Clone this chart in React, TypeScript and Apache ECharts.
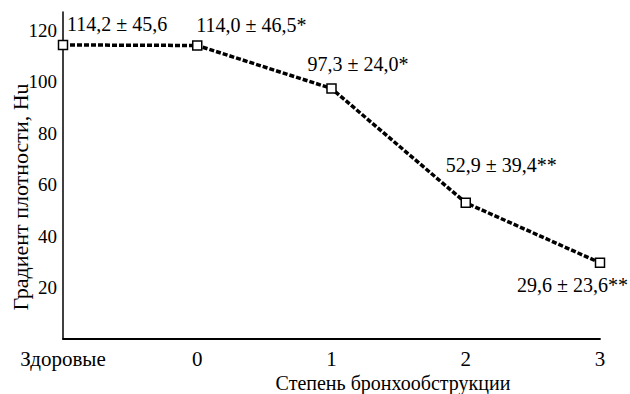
import React, { useEffect, useRef } from "react";
import * as echarts from "echarts";

const categories = ["Здоровые", "0", "1", "2", "3"];
const values = [114.2, 114.0, 97.3, 52.9, 29.6];
const pointLabels = [
  "114,2 ± 45,6",
  "114,0 ± 46,5*",
  "97,3 ± 24,0*",
  "52,9 ± 39,4**",
  "29,6 ± 23,6**",
];
const yTicks = [20, 40, 60, 80, 100, 120];
const yAxisTitle = "Градиент плотности, Hu";
const xAxisTitle = "Степень бронхообструкции";

const FONT = "Liberation Serif";

const labelLayouts = [
  { align: "left", offset: [4, -21] },
  { align: "left", offset: [-1, -20] },
  { align: "left", offset: [-24, -24] },
  { align: "left", offset: [-20, -38] },
  { align: "right", offset: [28, 22] },
];

export default function App() {
  const ref = useRef<HTMLDivElement>(null);
  useEffect(() => {
    document.body.style.margin = "0";
    if (!ref.current) return;
    const chart = echarts.init(ref.current, null, { renderer: "svg" });
    chart.setOption({
      animation: false,
      backgroundColor: "#ffffff",
      textStyle: { fontFamily: FONT },
      grid: { left: 63, right: 30, top: 12, bottom: 55, containLabel: false },
      xAxis: {
        type: "category",
        data: categories,
        boundaryGap: false,
        axisLine: { lineStyle: { color: "#000", width: 1.8 } },
        axisTick: { show: false },
        axisLabel: {
          color: "#000",
          fontFamily: FONT,
          fontSize: 21,
          margin: 9,
        },
        splitLine: { show: false },
      },
      yAxis: {
        type: "value",
        min: 0,
        max: 127,
        interval: 20,
        axisLine: { show: true, lineStyle: { color: "#000", width: 1.5 } },
        axisTick: { show: false },
        splitLine: { show: false },
        axisLabel: {
          color: "#000",
          fontFamily: FONT,
          fontSize: 19,
          margin: 6,
          showMaxLabel: false,
          formatter: (v: number) => (yTicks.includes(v) ? String(v) : ""),
        },
      },
      graphic: [
        {
          type: "text",
          x: 393,
          y: 383,
          style: {
            text: xAxisTitle,
            fontFamily: FONT,
            fontSize: 20,
            fill: "#000",
            align: "center",
            verticalAlign: "middle",
          },
        },
        {
          type: "text",
          x: 20,
          y: 197,
          rotation: Math.PI / 2,
          style: {
            text: yAxisTitle,
            fontFamily: FONT,
            fontSize: 22,
            fill: "#000",
            align: "center",
            verticalAlign: "middle",
          },
        },
      ],
      series: [
        {
          type: "line",
          data: values.map((v, i) => ({
            value: v,
            label: {
              show: true,
              position: "inside",
              verticalAlign: "middle",
              align: labelLayouts[i].align,
              offset: labelLayouts[i].offset,
              formatter: pointLabels[i],
              color: "#000",
              fontFamily: FONT,
              fontSize: 20,
            },
          })),
          symbol: "rect",
          symbolSize: 9,
          showAllSymbol: true,
          lineStyle: { color: "#000", width: 3.5, type: [5, 2] },
          itemStyle: { color: "#fff", borderColor: "#000", borderWidth: 1.5 },
        },
      ],
    });
    return () => chart.dispose();
  }, []);
  return <div ref={ref} style={{ width: 630, height: 394 }} />;
}
